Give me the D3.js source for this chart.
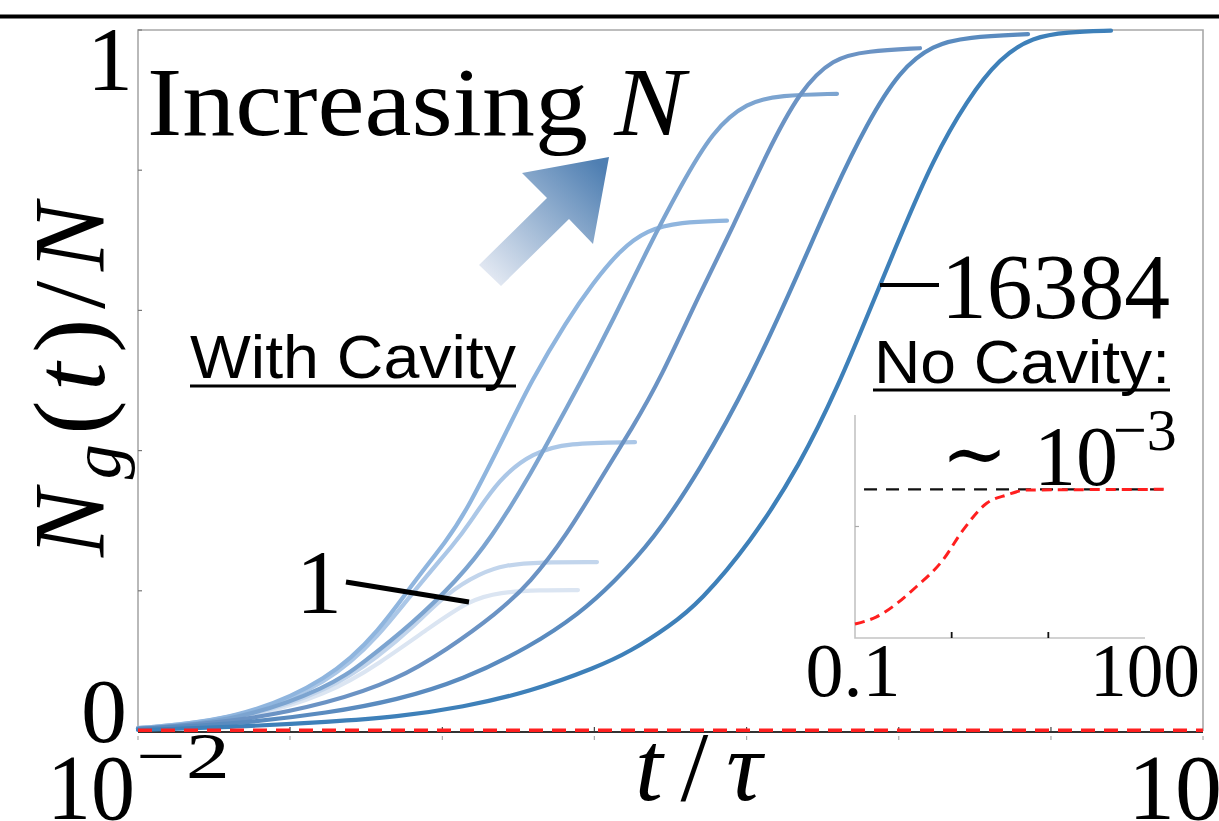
<!DOCTYPE html>
<html>
<head>
<meta charset="utf-8">
<script src="https://cdn.jsdelivr.net/npm/d3@7"></script>
<style>
html, body { margin: 0; padding: 0; background: #fff; }
svg { display: block; }
.serif { font-family: "Liberation Serif", "DejaVu Serif", serif; }
.sans { font-family: "Liberation Sans", Arial, sans-serif; }
</style>
</head>
<body>
<div id="chart"></div>
<script>
// N values of the "with cavity" runs, lightest to darkest
const seriesN = [1, 4, 16, 64, 256, 1024, 4096, 16384];
const seriesColors = ["#dbe5f2", "#c2d5ec", "#abc7e7", "#8fb5de", "#7ca4d0", "#6b93c4", "#5a8bbf", "#3e80b9"];

// [t/tau, Ng/N]
const curveN1 = [[0.01, 0.004], [0.0191, 0.013], [0.0347, 0.053], [0.0480, 0.097], [0.0665, 0.148], [0.0861, 0.187], [0.1046, 0.198], [0.1356, 0.201], [0.1735, 0.201]];
const curveN4 = [[0.01, 0.004], [0.0191, 0.014], [0.0347, 0.058], [0.0480, 0.108], [0.0595, 0.148], [0.0742, 0.197], [0.0919, 0.225], [0.1081, 0.237], [0.1356, 0.241], [0.1963, 0.241]];
const curveN16 = [[0.01, 0.004], [0.0191, 0.016], [0.0347, 0.068], [0.0480, 0.137], [0.0595, 0.198], [0.0792, 0.272], [0.0845, 0.291], [0.1046, 0.362], [0.1297, 0.397], [0.1616, 0.411], [0.2512, 0.412]];
const curveN64 = [[0.01, 0.004], [0.0191, 0.016], [0.0347, 0.073], [0.0480, 0.144], [0.0595, 0.211], [0.0742, 0.272], [0.0845, 0.315], [0.1117, 0.437], [0.1271, 0.496], [0.1616, 0.586], [0.1913, 0.639], [0.2278, 0.686], [0.2716, 0.715], [0.3363, 0.726], [0.4561, 0.728]];
const curveN256 = [[0.01, 0.003], [0.0191, 0.014], [0.0347, 0.063], [0.0430, 0.097], [0.0595, 0.154], [0.0792, 0.215], [0.0981, 0.272], [0.1297, 0.372], [0.1544, 0.444], [0.1781, 0.501], [0.2178, 0.586], [0.2716, 0.686], [0.3363, 0.776], [0.4166, 0.857], [0.5194, 0.897], [0.6433, 0.907], [0.9311, 0.909]];
const curveN1024 = [[0.01, 0.003], [0.0191, 0.013], [0.0347, 0.040], [0.0536, 0.073], [0.0742, 0.116], [0.1026, 0.168], [0.1271, 0.211], [0.1616, 0.280], [0.2001, 0.358], [0.2479, 0.434], [0.2954, 0.501], [0.3828, 0.625], [0.4744, 0.719], [0.5912, 0.825], [0.7324, 0.914], [0.9072, 0.960], [1.131, 0.970], [1.595, 0.974]];
const curveN4096 = [[0.01, 0.003], [0.0191, 0.010], [0.0347, 0.026], [0.0536, 0.044], [0.0823, 0.073], [0.1271, 0.120], [0.1758, 0.168], [0.2178, 0.211], [0.2823, 0.272], [0.3828, 0.372], [0.5296, 0.501], [0.7324, 0.658], [0.9072, 0.767], [1.131, 0.867], [1.401, 0.943], [1.735, 0.979], [2.164, 0.990], [3.214, 0.994]];
const curveN16384 = [[0.01, 0.0014], [0.0191, 0.006], [0.0347, 0.013], [0.0536, 0.020], [0.0823, 0.034], [0.1271, 0.056], [0.1963, 0.091], [0.2430, 0.113], [0.3152, 0.150], [0.3828, 0.184], [0.5296, 0.268], [0.7324, 0.379], [0.9495, 0.498], [1.131, 0.591], [1.401, 0.705], [1.735, 0.815], [2.164, 0.900], [2.680, 0.961], [3.320, 0.990], [4.140, 0.997], [5.506, 0.999]];
const withCavity = [curveN1, curveN4, curveN16, curveN64, curveN256, curveN1024, curveN4096, curveN16384];

// no cavity: flat at ~1e-3 on the main axes
const noCavityMain = [[0.01, 0.001], [10, 0.001]];
// inset, values in units of 1e-3
const noCavityInset = [[0.1, 0.094], [0.165, 0.141], [0.428, 0.343], [0.813, 0.525], [1.31, 0.726], [2.32, 0.908], [3.73, 0.962], [5.87, 0.995], [161, 1.0]];
const insetGuide = [[0.124, 1], [170, 1]];

const xTicks = [0.01, 0.0268, 0.072, 0.193, 0.518, 1.39, 3.73, 10];
const yTicks = [0, 0.2, 0.4, 0.6, 0.8, 1];
const insetXTicks = [1, 10];
const insetYTicks = [0.75];

const width = 1219, height = 821;

const svg = d3.select("#chart").append("svg")
    .attr("width", width)
    .attr("height", height)
    .attr("viewBox", [0, 0, width, height]);

const x = d3.scaleLog().domain([0.01, 10]).range([138, 1203]);
const y = d3.scaleLinear().domain([0, 1]).range([731, 30]);
const xi = d3.scaleLog().domain([0.1, 100]).range([855, 1145]);
const yi = d3.scaleLinear().domain([0, 1.5]).range([638, 415]);

// rule above the panel
svg.append("line")
    .attr("x1", 0).attr("x2", width)
    .attr("y1", 16.5).attr("y2", 16.5)
    .attr("stroke", "#000").attr("stroke-width", 4);

// frame
const frame = svg.append("g").attr("fill", "none");
frame.append("path")
    .attr("d", `M${x(0.01)},${y(0)}V${y(1)}H${x(10)}V${y(0)}`)
    .attr("stroke", "#a8a8a8").attr("stroke-width", 1.6);
frame.append("line")
    .attr("x1", x(0.01)).attr("x2", x(10))
    .attr("y1", y(0) + 1).attr("y2", y(0) + 1)
    .attr("stroke", "#333").attr("stroke-width", 1.8);

// ticks
svg.append("g")
    .selectAll("line")
    .data(yTicks)
    .join("line")
    .attr("x1", x(0.01)).attr("x2", x(0.01) + 4)
    .attr("y1", d => y(d)).attr("y2", d => y(d))
    .attr("stroke", "#777").attr("stroke-width", 1.2);

svg.append("g")
    .selectAll("line")
    .data(xTicks)
    .join("line")
    .attr("x1", d => x(d)).attr("x2", d => x(d))
    .attr("y1", y(0) + 5).attr("y2", y(0) + 9)
    .attr("stroke", "#aaa").attr("stroke-width", 1.2);

svg.append("g")
    .selectAll("line")
    .data(xTicks.slice(1, -1))
    .join("line")
    .attr("x1", d => x(d)).attr("x2", d => x(d))
    .attr("y1", y(0)).attr("y2", y(0) - 4)
    .attr("stroke", "#444").attr("stroke-width", 1.2);

// curves
const line = d3.line()
    .x(d => x(d[0]))
    .y(d => y(d[1]))
    .curve(d3.curveBasis);

svg.append("g")
    .attr("fill", "none")
    .attr("stroke-width", 4.2)
    .attr("stroke-linecap", "round")
    .selectAll("path")
    .data(withCavity)
    .join("path")
    .attr("stroke", (d, i) => seriesColors[i])
    .attr("d", line);

svg.append("path")
    .datum(noCavityMain)
    .attr("fill", "none")
    .attr("stroke", "#ff1f1f")
    .attr("stroke-width", 3.5)
    .attr("stroke-dasharray", "14 9")
    .attr("d", line);

// inset
const inset = svg.append("g");
inset.append("path")
    .attr("d", `M${xi(0.1)},${yi(1.5)}V${yi(0)}H${xi(100)}`)
    .attr("fill", "none").attr("stroke", "#c4c4c4").attr("stroke-width", 1.6);
inset.selectAll(".xt")
    .data(insetXTicks)
    .join("line")
    .attr("x1", d => xi(d)).attr("x2", d => xi(d))
    .attr("y1", yi(0)).attr("y2", yi(0) - 6)
    .attr("stroke", "#111").attr("stroke-width", 1.8);
inset.selectAll(".yt")
    .data(insetYTicks)
    .join("line")
    .attr("x1", xi(0.1)).attr("x2", xi(0.1) + 4)
    .attr("y1", d => yi(d)).attr("y2", d => yi(d))
    .attr("stroke", "#aaa").attr("stroke-width", 1.2);

const insetLine = d3.line()
    .x(d => xi(d[0]))
    .y(d => yi(d[1]))
    .curve(d3.curveMonotoneX);

inset.append("path")
    .datum(insetGuide)
    .attr("fill", "none").attr("stroke", "#111")
    .attr("stroke-width", 2.2).attr("stroke-dasharray", "13 9")
    .attr("d", insetLine);
inset.append("path")
    .datum(noCavityInset)
    .attr("fill", "none").attr("stroke", "#ff1f1f")
    .attr("stroke-width", 3).attr("stroke-dasharray", "10 6")
    .attr("d", insetLine);

inset.append("text").attr("class", "serif")
    .attr("x", xi(0.1) - 2).attr("y", 696)
    .attr("text-anchor", "middle").attr("font-size", 76)
    .text("0.1");
inset.append("text").attr("class", "serif")
    .attr("x", xi(100)).attr("y", 696)
    .attr("text-anchor", "middle").attr("font-size", 76)
    .attr("textLength", 110).attr("lengthAdjust", "spacingAndGlyphs")
    .text("100");

const sim = inset.append("text").attr("class", "serif").attr("x", 941).attr("y", 485);
sim.append("tspan").attr("font-size", 80).attr("font-family", "DejaVu Serif").attr("dy", -4).text("∼");
sim.append("tspan").attr("x", 1034).attr("dy", 4).attr("font-size", 84).text("10");
sim.append("tspan").attr("x", 1113).attr("y", 450).attr("font-size", 60).text("−3");

// axis labels
svg.append("text").attr("class", "serif")
    .attr("x", 133).attr("y", 90)
    .attr("text-anchor", "end").attr("font-size", 92)
    .text("1");
svg.append("text").attr("class", "serif")
    .attr("x", 127).attr("y", 742)
    .attr("text-anchor", "end").attr("font-size", 92)
    .text("0");

svg.append("text").attr("class", "serif")
    .attr("x", 47).attr("y", 819).attr("font-size", 94)
    .attr("textLength", 88).attr("lengthAdjust", "spacingAndGlyphs")
    .text("10");
svg.append("text").attr("class", "serif")
    .attr("x", 136).attr("y", 778).attr("font-size", 66)
    .attr("textLength", 94).attr("lengthAdjust", "spacingAndGlyphs")
    .text("−2");
svg.append("text").attr("class", "serif")
    .attr("x", 1128).attr("y", 819).attr("font-size", 94)
    .text("10");

const xt = svg.append("text").attr("class", "serif")
    .attr("x", 635).attr("y", 800).attr("font-size", 100)
    .attr("textLength", 127).attr("lengthAdjust", "spacing");
xt.append("tspan").attr("font-style", "italic").text("t");
xt.append("tspan").text("/");
xt.append("tspan").attr("font-style", "italic").text("τ");

const yl = svg.append("text").attr("class", "serif")
    .attr("transform", "translate(104,557) rotate(-90)")
    .attr("font-size", 102)
    .attr("textLength", 354).attr("lengthAdjust", "spacing");
yl.append("tspan").attr("font-style", "italic").text("N");
yl.append("tspan").attr("font-style", "italic").attr("font-size", 70).attr("dy", 16).text("g");
yl.append("tspan").attr("dy", -16).text("(");
yl.append("tspan").attr("font-style", "italic").text("t");
yl.append("tspan").text(")/");
yl.append("tspan").attr("font-style", "italic").text("N");

// annotations
const inc = svg.append("text").attr("class", "serif")
    .attr("x", 147).attr("y", 135).attr("font-size", 98)
    .attr("textLength", 538).attr("lengthAdjust", "spacingAndGlyphs");
inc.append("tspan").text("Increasing ");
inc.append("tspan").attr("font-style", "italic").text("N");

const grad = svg.append("defs").append("linearGradient")
    .attr("id", "arrowGrad")
    .attr("gradientUnits", "userSpaceOnUse")
    .attr("x1", 490).attr("y1", 277).attr("x2", 600).attr("y2", 165);
grad.append("stop").attr("offset", 0).attr("stop-color", "#e2e8f2");
grad.append("stop").attr("offset", 1).attr("stop-color", "#4f7fb2");

svg.append("polygon")
    .attr("points", [[609, 157], [522, 173], [547, 198], [479, 265], [501, 286], [569, 219], [593, 244]].join(" "))
    .attr("fill", "url(#arrowGrad)");

svg.append("text").attr("class", "sans")
    .attr("x", 190).attr("y", 378).attr("font-size", 62)
    .attr("textLength", 326).attr("lengthAdjust", "spacingAndGlyphs")
    .text("With Cavity");
svg.append("line")
    .attr("x1", 190).attr("x2", 516).attr("y1", 386).attr("y2", 386)
    .attr("stroke", "#000").attr("stroke-width", 3);

svg.append("text").attr("class", "sans")
    .attr("x", 874).attr("y", 383).attr("font-size", 62)
    .attr("textLength", 296).attr("lengthAdjust", "spacingAndGlyphs")
    .text("No Cavity:");
svg.append("line")
    .attr("x1", 873).attr("x2", 1170).attr("y1", 390).attr("y2", 390)
    .attr("stroke", "#000").attr("stroke-width", 3);

svg.append("text").attr("class", "serif")
    .attr("x", 941).attr("y", 318).attr("font-size", 94)
    .attr("textLength", 229).attr("lengthAdjust", "spacingAndGlyphs")
    .text("16384");
svg.append("line")
    .attr("x1", 880).attr("x2", 939).attr("y1", 285).attr("y2", 285)
    .attr("stroke", "#000").attr("stroke-width", 4);

svg.append("text").attr("class", "serif")
    .attr("x", 296).attr("y", 613).attr("font-size", 92)
    .text("1");
svg.append("line")
    .attr("x1", 346).attr("y1", 582).attr("x2", 469).attr("y2", 602)
    .attr("stroke", "#000").attr("stroke-width", 5);
</script>
</body>
</html>
